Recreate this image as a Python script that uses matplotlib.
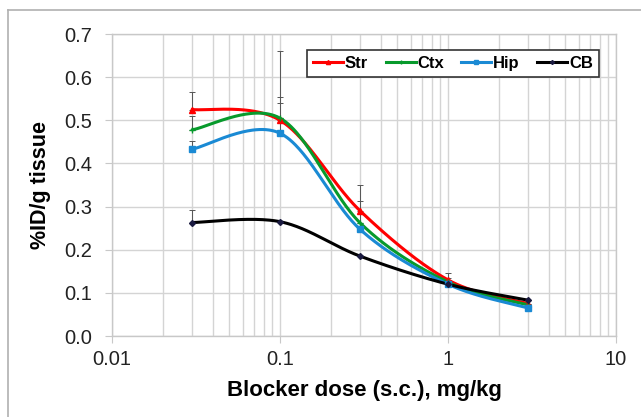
import numpy as np
import matplotlib
matplotlib.use("Agg")
import matplotlib.pyplot as plt
from matplotlib.lines import Line2D

plt.rcParams['font.family'] = ['Liberation Sans', 'DejaVu Sans']

dose = [0.03, 0.1, 0.3, 1, 3]
series_names = ["Str", "Ctx", "Hip", "CB"]
str_vals = [0.525, 0.500, 0.290, 0.130, 0.075]
ctx_vals = [0.478, 0.505, 0.262, 0.125, 0.072]
hip_vals = [0.433, 0.470, 0.247, 0.120, 0.065]
cb_vals = [0.263, 0.265, 0.185, 0.120, 0.083]
str_err = [0.040, 0.053, 0.060, 0.017, 0.000]
ctx_err = [0.032, 0.035, 0.051, 0.010, 0.000]
hip_err = [0.019, 0.190, 0.000, 0.000, 0.000]
cb_err = [0.030, 0.000, 0.000, 0.000, 0.000]

colors = ["#ff0000", "#079a2c", "#1a8ad4", "#000000"]
markers = ["^", "+", "s", "D"]

fig = plt.figure(figsize=(6.41, 4.17), dpi=100)
ax = fig.add_axes([112/641, 1-336/417, (616-112)/641, (336-34)/417])

# outer frame
fig.add_artist(Line2D([8/641, 8/641], [0, 1-10/417], transform=fig.transFigure, color="#b0b0b0", lw=1.2))
fig.add_artist(Line2D([8/641, 1], [1-10/417, 1-10/417], transform=fig.transFigure, color="#b0b0b0", lw=1.2))

ax.set_xscale("log")
ax.set_xlim(0.01, 10)
ax.set_ylim(0, 0.7)

def excel_smooth(x, y, n=60):
    # Bezier smoothing in log-x / scaled-y space
    u = np.log10(np.asarray(x, float)) * 168.0
    v = np.asarray(y, float) * 431.0
    P = np.column_stack([u, v])
    out = []
    for i in range(len(P) - 1):
        p0 = P[i - 1] if i > 0 else P[i]
        p1 = P[i]
        p2 = P[i + 1]
        p3 = P[i + 2] if i + 2 < len(P) else P[i + 1]
        c1 = p1 + (p2 - p0) / 6.0
        c2 = p2 - (p3 - p1) / 6.0
        t = np.linspace(0, 1, n)[:, None]
        b = (1-t)**3*p1 + 3*(1-t)**2*t*c1 + 3*(1-t)*t**2*c2 + t**3*p2
        out.append(b if i == 0 else b[1:])
    B = np.vstack(out)
    return 10 ** (B[:, 0] / 168.0), B[:, 1] / 431.0

all_vals = [str_vals, ctx_vals, hip_vals, cb_vals]
all_errs = [str_err, ctx_err, hip_err, cb_err]

for name, vals, errs, c, m in zip(series_names, all_vals, all_errs, colors, markers):
    e = np.array(errs)
    ax.errorbar(dose, vals, yerr=[np.zeros_like(e), e], fmt="none", ecolor="#555555",
                elinewidth=0.7, capsize=2.5, capthick=0.7, zorder=3)

handles = []
for name, vals, c, m in zip(series_names, all_vals, colors, markers):
    sx, sy = excel_smooth(dose, vals)
    ax.plot(sx, sy, color=c, lw=2.2, zorder=4, solid_capstyle="round")
    mc = "#1a1a40" if name == "CB" else c
    ms = {"^": 4, "+": 4, "s": 4, "D": 3}[m]
    ax.plot(dose, vals, ls="none", marker=m, color=mc, ms=ms, mew=1.0, zorder=5)
    handles.append(Line2D([0], [0], color=c, lw=2.2, marker=m, ms=ms - 1, mfc=mc, mec=mc))

ax.grid(True, which="major", color="#d4d4d4", lw=1.0)
ax.grid(True, which="minor", axis="x", color="#d4d4d4", lw=1.0)
ax.set_axisbelow(True)
for s in ax.spines.values():
    s.set_color("#c8c8c8")
    s.set_linewidth(1.0)
ax.tick_params(which="minor", length=0)
ax.tick_params(which="major", length=5, color="#c8c8c8", labelsize=14.5, labelcolor="#222222")
ax.tick_params(axis="y", pad=9)
ax.tick_params(axis="x", pad=5)
ax.set_yticks(np.arange(0, 0.71, 0.1))
ax.set_yticklabels([f"{v:.1f}" for v in np.arange(0, 0.71, 0.1)])
ax.set_xticks([0.01, 0.1, 1, 10])
ax.set_xticklabels(["0.01", "0.1", "1", "10"])

ax.set_xlabel("Blocker dose (s.c.), mg/kg", fontsize=16, fontweight="bold", labelpad=8)
ax.set_ylabel("%ID/g tissue", fontsize=15.5, fontweight="bold", labelpad=10)

leg = ax.legend(handles, series_names, loc="upper right", ncol=4, frameon=True,
                fancybox=False, edgecolor="#333333", framealpha=1,
                prop={"weight": "bold", "size": 12}, handlelength=1.8,
                handletextpad=0.1, columnspacing=1.05, borderpad=0.35,
                bbox_to_anchor=(0.982, 0.975))
leg.get_frame().set_linewidth(1.2)

fig.savefig("out.png", dpi=100)
